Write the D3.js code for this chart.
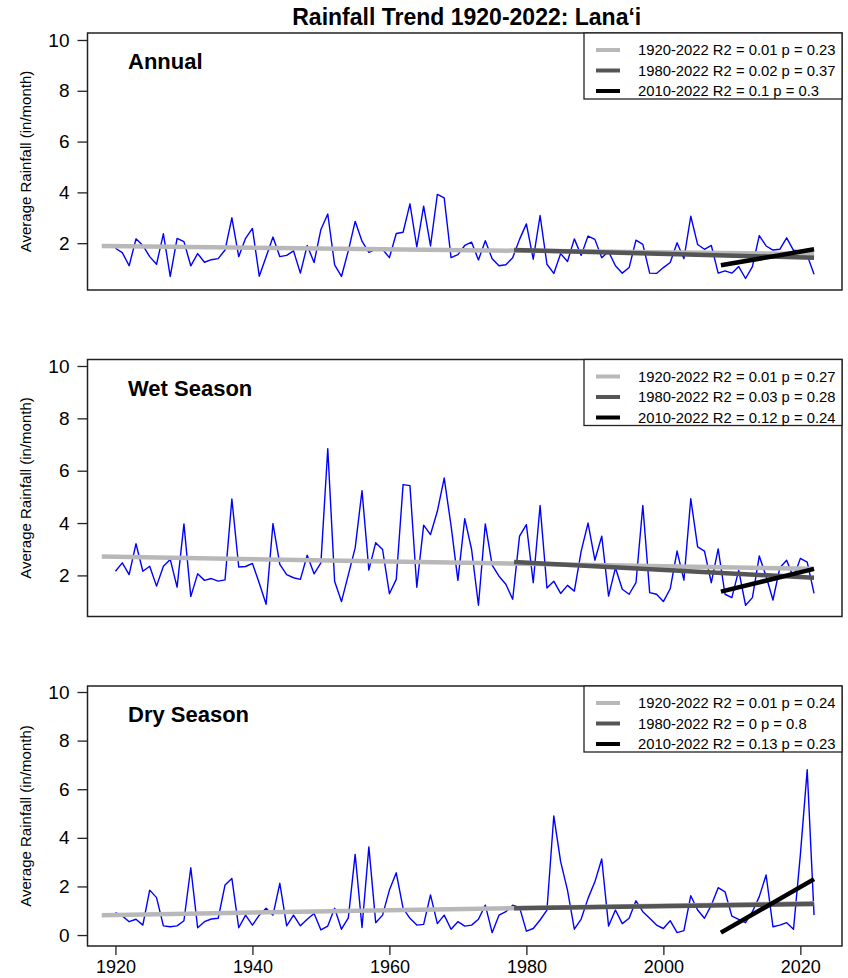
<!DOCTYPE html>
<html>
<head>
<meta charset="utf-8">
<script src="https://cdn.jsdelivr.net/npm/d3@7"></script>
<style>
  body { margin: 0; background: #fff; }
  svg { font-family: "Liberation Sans", Arial, sans-serif; }
</style>
</head>
<body>
<svg id="chart" width="848" height="978"></svg>
<script>
// data
const years = d3.range(1920, 2023);

const annual = [
  1.80, 1.63, 1.11, 2.17, 1.91, 1.47, 1.17, 2.37, 0.69, 2.19,
  2.06, 1.11, 1.59, 1.25, 1.35, 1.39, 1.73, 3.00, 1.47, 2.19,
  2.58, 0.70, 1.47, 2.24, 1.47, 1.52, 1.70, 0.82, 1.91, 1.24,
  2.54, 3.15, 1.15, 0.69, 1.70, 2.86, 2.08, 1.64, 1.76, 1.76,
  1.43, 2.38, 2.43, 3.55, 1.85, 3.46, 1.89, 3.92, 3.78, 1.43,
  1.55, 1.91, 2.04, 1.34, 2.10, 1.39, 1.11, 1.15, 1.43, 2.15,
  2.76, 1.37, 3.09, 1.17, 0.81, 1.59, 1.28, 2.17, 1.52, 2.28,
  2.15, 1.43, 1.67, 1.11, 0.82, 1.04, 2.12, 1.95, 0.82, 0.81,
  1.04, 1.24, 2.02, 1.39, 3.06, 1.95, 1.76, 1.91, 0.82, 0.91,
  0.82, 1.08, 0.61, 1.08, 2.30, 1.89, 1.73, 1.76, 2.21, 1.72,
  1.69, 1.52, 0.78
];

const wet = [
  2.16, 2.48, 2.03, 3.21, 2.16, 2.35, 1.59, 2.35, 2.61, 1.55,
  3.97, 1.19, 2.06, 1.81, 1.88, 1.78, 1.83, 4.92, 2.32, 2.34,
  2.46, 1.70, 0.90, 3.98, 2.42, 2.03, 1.91, 1.85, 2.77, 2.06,
  2.48, 6.84, 1.78, 1.00, 2.02, 3.05, 5.24, 2.20, 3.25, 2.99,
  1.30, 1.85, 5.47, 5.43, 1.55, 3.92, 3.56, 4.45, 5.72, 3.90,
  1.81, 4.17, 2.99, 0.86, 3.97, 2.39, 1.97, 1.66, 1.09, 3.50,
  3.94, 1.72, 4.67, 1.52, 1.78, 1.31, 1.62, 1.40, 2.93, 4.00,
  2.58, 3.50, 1.21, 2.29, 1.47, 1.28, 1.72, 4.67, 1.34, 1.28,
  1.00, 1.49, 2.93, 1.82, 4.93, 3.09, 2.93, 1.72, 3.01, 1.28,
  1.15, 2.19, 0.86, 1.15, 2.74, 1.97, 1.06, 2.29, 2.58, 1.91,
  2.65, 2.51, 1.31
];

const dry = [
  0.92, 0.79, 0.55, 0.65, 0.41, 1.85, 1.54, 0.38, 0.34, 0.38,
  0.59, 2.77, 0.30, 0.55, 0.66, 0.69, 2.06, 2.33, 0.30, 0.82,
  0.41, 0.82, 1.10, 0.82, 2.13, 0.38, 0.82, 0.38, 0.65, 0.89,
  0.21, 0.37, 1.10, 0.24, 0.71, 3.32, 0.31, 3.63, 0.51, 0.82,
  1.85, 2.56, 1.10, 0.69, 0.41, 0.44, 1.65, 0.47, 0.82, 0.24,
  0.55, 0.37, 0.41, 0.65, 1.23, 0.10, 0.82, 0.96, 1.23, 1.14,
  0.16, 0.27, 0.62, 1.03, 4.90, 3.02, 1.85, 0.24, 0.66, 1.51,
  2.19, 3.13, 0.37, 1.03, 0.47, 0.69, 1.41, 0.96, 0.69, 0.41,
  0.27, 0.59, 0.10, 0.18, 1.62, 1.03, 0.69, 1.23, 1.95, 1.78,
  0.78, 0.65, 0.51, 0.96, 1.58, 2.47, 0.34, 0.41, 0.51, 0.24,
  3.30, 6.80, 0.82
];

const panelNames = ["Annual", "Wet Season", "Dry Season"];
const trendPeriods = ["1920-2022", "1980-2022", "2010-2022"];
const trendStartYears = [1918, 1978.2, 2008.4];
const trendEndYear = 2022;

// [start value, end value] of each fitted line
const annualTrend = [[1.89, 1.57], [1.73, 1.43], [1.13, 1.76]];
const wetTrend = [[2.72, 2.25], [2.51, 1.91], [1.38, 2.25]];
const dryTrend = [[0.82, 1.31], [1.10, 1.28], [0.10, 2.30]];

const annualR2 = [0.01, 0.02, 0.1], annualP = [0.23, 0.37, 0.3];
const wetR2 = [0.01, 0.03, 0.12], wetP = [0.27, 0.28, 0.24];
const dryR2 = [0.01, 0, 0.13], dryP = [0.24, 0.8, 0.23];

const yTicks = [0, 2, 4, 6, 8, 10];
const xTicks = [1920, 1940, 1960, 1980, 2000, 2020];

const titleText = "Rainfall Trend 1920-2022: Lana\u2018i";
const yLabel = "Average Rainfall (in/month)";

// layout
const left = 87.5, right = 842;
const panels = [
  { values: annual, trend: annualTrend, r2: annualR2, p: annualP, top: 33, bottom: 290, yDomain: [0.157, 10.275] },
  { values: wet, trend: wetTrend, r2: wetR2, p: wetP, top: 359.5, bottom: 616.5, yDomain: [0.43, 10.248] },
  { values: dry, trend: dryTrend, r2: dryR2, p: dryP, top: 686, bottom: 946, yDomain: [-0.45, 10.247] }
];
const trendColors = ["#b8b8b8", "#555555", "#000000"];

const svg = d3.select("#chart");
const x = d3.scaleLinear().domain([1915.92, 2026.08]).range([left, right]);

svg.append("text")
  .attr("x", (left + right) / 2 + 2)
  .attr("y", 25)
  .attr("text-anchor", "middle")
  .attr("font-weight", "bold")
  .attr("font-size", 23)
  .text(titleText);

panels.forEach((p, i) => {
  const y = d3.scaleLinear().domain(p.yDomain).range([p.bottom, p.top]);
  const g = svg.append("g");

  // blue series
  const line = d3.line().x((d, k) => x(years[k])).y((d) => y(d));
  g.append("path")
    .datum(p.values)
    .attr("fill", "none")
    .attr("stroke", "#0000ff")
    .attr("stroke-width", 1.4)
    .attr("stroke-linejoin", "round")
    .attr("d", line);

  // trend lines
  p.trend.forEach((t, j) => {
    g.append("line")
      .attr("x1", x(trendStartYears[j]))
      .attr("x2", x(trendEndYear))
      .attr("y1", y(t[0]))
      .attr("y2", y(t[1]))
      .attr("stroke", trendColors[j])
      .attr("stroke-width", 4.5);
  });

  // box
  g.append("rect")
    .attr("x", left)
    .attr("y", p.top)
    .attr("width", right - left)
    .attr("height", p.bottom - p.top)
    .attr("fill", "none")
    .attr("stroke", "#222")
    .attr("stroke-width", 1.5);

  // y axis
  const ticks = yTicks.filter((v) => v >= p.yDomain[0] && v <= p.yDomain[1]);
  const yAxis = g.append("g")
    .attr("transform", `translate(${left},0)`)
    .call(d3.axisLeft(y).tickValues(ticks).tickSize(10).tickPadding(8).tickFormat(d3.format("d")));
  yAxis.select(".domain").remove();
  yAxis.selectAll("line").attr("stroke", "#222").attr("stroke-width", 1.3);
  yAxis.selectAll("text").attr("font-size", 19).attr("fill", "#000").attr("font-family", "Liberation Sans, Arial, sans-serif");

  // y label
  g.append("text")
    .attr("transform", `translate(31,${(p.top + p.bottom) / 2}) rotate(-90)`)
    .attr("text-anchor", "middle")
    .attr("font-size", 15)
    .text(yLabel);

  // panel label
  g.append("text")
    .attr("x", 128)
    .attr("y", p.top + 36)
    .attr("font-weight", "bold")
    .attr("font-size", 22)
    .text(panelNames[i]);

  // legend
  const lgW = 258, lgH = 66;
  const lg = g.append("g").attr("transform", `translate(${right - lgW},${p.top})`);
  lg.append("rect")
    .attr("width", lgW)
    .attr("height", lgH)
    .attr("fill", "#fff")
    .attr("stroke", "#222")
    .attr("stroke-width", 1.3);
  trendPeriods.forEach((label, j) => {
    const ly = 17 + j * 20.5;
    lg.append("line")
      .attr("x1", 12).attr("x2", 36)
      .attr("y1", ly).attr("y2", ly)
      .attr("stroke", trendColors[j])
      .attr("stroke-width", 4);
    lg.append("text")
      .attr("x", 54)
      .attr("y", ly)
      .attr("dy", "0.35em")
      .attr("font-size", 14.8)
      .text(`${label} R2 = ${p.r2[j]} p = ${p.p[j]}`);
  });

  // x axis only on the bottom panel
  if (i === panels.length - 1) {
    const xAxis = g.append("g")
      .attr("transform", `translate(0,${p.bottom})`)
      .call(d3.axisBottom(x).tickValues(xTicks).tickSize(9).tickPadding(5).tickFormat(d3.format("d")));
    xAxis.select(".domain").remove();
    xAxis.selectAll("line").attr("stroke", "#222").attr("stroke-width", 1.3);
    xAxis.selectAll("text").attr("font-size", 18).attr("fill", "#000").attr("font-family", "Liberation Sans, Arial, sans-serif");
  }
});
</script>
</body>
</html>
